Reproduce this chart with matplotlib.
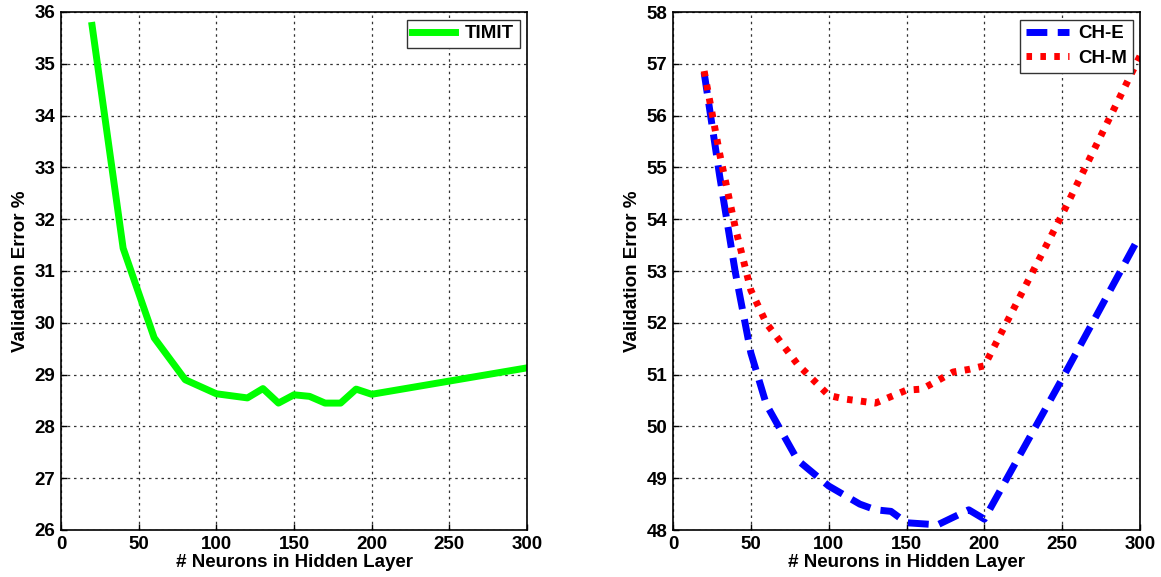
import matplotlib
matplotlib.use("Agg")
import matplotlib.pyplot as plt

plt.rcParams['font.family'] = ['Liberation Sans', 'DejaVu Sans']
plt.rcParams['font.weight'] = 'bold'

# TIMIT (left panel)
timit_x = [20, 40, 60, 80, 100, 120, 130, 140, 150, 160, 170, 180, 190, 200, 300]
timit_y = [35.74, 31.44, 29.71, 28.90, 28.63, 28.55, 28.73, 28.45, 28.61, 28.58,
           28.45, 28.45, 28.72, 28.62, 29.13]

# CH-E / CH-M (right panel)
ch_x = [20, 30, 40, 50, 60, 80, 100, 120, 130, 140, 150, 170, 190, 200, 250, 300]
che_y = [56.83, 54.83, 52.98, 51.42, 50.42, 49.35, 48.85, 48.5, 48.39, 48.36,
         48.14, 48.1, 48.39, 48.21, 50.92, 53.69]
chm_x = [20, 30, 40, 50, 60, 80, 100, 110, 120, 130, 150, 160, 180, 190, 200, 250, 300]
chm_y = [56.86, 55.26, 53.84, 52.63, 51.99, 51.2, 50.6, 50.53, 50.49, 50.45,
         50.7, 50.72, 51.05, 51.1, 51.17, 54.09, 57.15]

fig = plt.figure(figsize=(11.61, 5.77), dpi=100)
ax1 = fig.add_axes([61 / 1161, 47 / 577, 466 / 1161, 518 / 577])
ax2 = fig.add_axes([673 / 1161, 47 / 577, 467 / 1161, 518 / 577])


def style(ax, ylo, yhi):
    ax.set_xlim(0, 300)
    ax.set_ylim(ylo, yhi)
    ax.set_xticks(range(0, 301, 50))
    ax.set_yticks(range(ylo, yhi + 1))
    ax.grid(True, color='#333333', linestyle=(0, (2, 3)), linewidth=0.9)
    ax.tick_params(labelsize=13.5, direction='in', length=4, width=1, pad=4)
    for s in ax.spines.values():
        s.set_linewidth(1.2)
    ax.set_xlabel('# Neurons in Hidden Layer', fontsize=13.5, fontweight='bold', labelpad=1)
    ax.set_ylabel('Validation Error %', fontsize=13.5, fontweight='bold', labelpad=4)
    for t in ax.get_xticklabels() + ax.get_yticklabels():
        t.set_fontweight('bold')


ax1.plot(timit_x, timit_y, color='#00ff00', linewidth=5, label='TIMIT')
style(ax1, 26, 36)
ax1.legend(loc='upper right', fontsize=13.5, fancybox=False, edgecolor='#333333',
           framealpha=1, handlelength=2.3, borderpad=0.3, borderaxespad=0.4,
           handletextpad=0.5)

ax2.plot(ch_x, che_y, color='blue', linewidth=5, linestyle=(0, (3, 1.5)), label='CH-E')
ax2.plot(chm_x, chm_y, color='red', linewidth=5, linestyle=(0, (0.8, 1.2)), label='CH-M')
style(ax2, 48, 58)
ax2.legend(loc='upper right', fontsize=13.5, fancybox=False, edgecolor='#333333',
           framealpha=1, handlelength=2.3, borderpad=0.3, borderaxespad=0.4,
           handletextpad=0.5, labelspacing=0.4)

fig.savefig('out.png', dpi=100)
